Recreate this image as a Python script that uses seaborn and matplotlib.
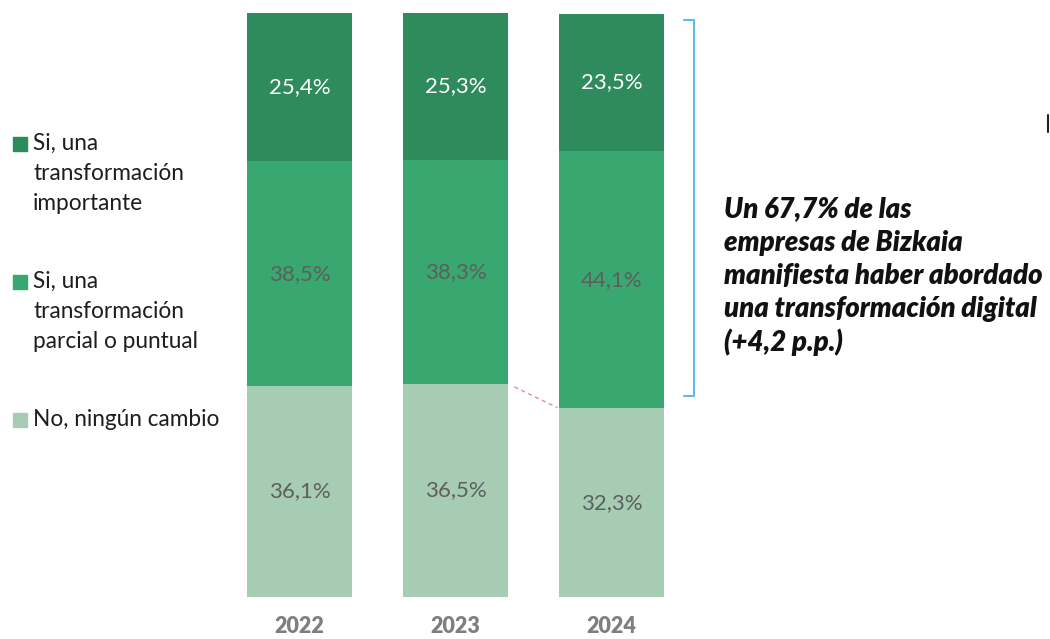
import matplotlib
matplotlib.use("Agg")
import matplotlib.pyplot as plt
from matplotlib.lines import Line2D
from matplotlib.patches import Rectangle
import seaborn as sns
import pandas as pd

years = ["2022", "2023", "2024"]
importante = [25.4, 25.3, 23.5]
parcial = [38.5, 38.3, 44.1]
ningun = [36.1, 36.5, 32.3]

etiquetas = [
    ["Si, una", "transformación", "importante"],
    ["Si, una", "transformación", "parcial o puntual"],
    ["No, ningún cambio"],
]
nota = [
    "Un 67,7% de las",
    "empresas de Bizkaia",
    "manifiesta haber abordado",
    "una transformación digital",
    "(+4,2 p.p.)",
]

col_oscuro = "#2E8B5B"
col_medio = "#38A870"
col_claro = "#A6CDB4"
col_gris = "#5E5E5E"

sns.set_style("white")
plt.rcParams["font.family"] = ["Lato", "DejaVu Sans"]

W, H = 1050, 639
fig = plt.figure(figsize=(W / 100, H / 100), dpi=100)
ax = fig.add_axes([221.5 / W, 42 / H, 468 / W, 584 / H])

df = pd.DataFrame({"year": years, "imp": importante, "par": parcial, "no": ningun})
df["tope_par"] = df["no"] + df["par"]
df["total"] = df["tope_par"] + df["imp"]

# barras apiladas: se pinta el total y encima las capas inferiores
for col, color in [("total", col_oscuro), ("tope_par", col_medio), ("no", col_claro)]:
    sns.barplot(data=df, x="year", y=col, color=color, width=0.673,
                saturation=1, linewidth=0, ax=ax)

ax.set_xlim(-0.5, 2.5)
ax.set_ylim(0, 100)
ax.set_xlabel("")
ax.set_ylabel("")
ax.set_yticks([])
sns.despine(ax=ax, left=True, bottom=True)
ax.tick_params(axis="x", length=0, pad=14)
for t in ax.get_xticklabels():
    t.set_fontsize(15.5)
    t.set_fontweight("heavy")
    t.set_color("#7F7F7F")

# etiquetas de valores
for i in range(len(years)):
    segs = [
        (ningun[i] / 2, ningun[i], col_gris),
        (ningun[i] + parcial[i] / 2, parcial[i], col_gris),
        (ningun[i] + parcial[i] + importante[i] / 2, importante[i], "white"),
    ]
    for y, v, c in segs:
        ax.text(i, y, f"{v:.1f}%".replace(".", ","), ha="center", va="center",
                fontsize=16, color=c)

# línea discontinua entre 2023 y 2024
x0, x1 = 1 + 0.337 + 0.04, 2 - 0.337 - 0.01
pend = (ningun[2] - ningun[1]) / (1 - 2 * 0.337)
ax.add_line(Line2D([x0, x1],
                   [ningun[1] + pend * 0.04, ningun[2] - pend * 0.01],
                   color="#E58F8F", lw=1.0, ls=(0, (3, 2.5))))

# corchete azul
ax.add_line(Line2D([2.465, 2.529, 2.529, 2.465], [98.8, 98.8, 34.4, 34.4],
                   color="#5BBDEB", lw=1.5, clip_on=False))

# leyenda manual
bases = [[150, 180, 210], [288, 318, 348], [426]]
for lineas, ys, c in zip(etiquetas, bases, [col_oscuro, col_medio, col_claro]):
    fig.patches.append(Rectangle((13 / W, 1 - (ys[0] + 1) / H), 14 / W, 14 / H,
                                 transform=fig.transFigure, color=c))
    for txt, y in zip(lineas, ys):
        fig.text(33 / W, 1 - y / H, txt, fontsize=16.3, color="#1E1E1E",
                 va="baseline", ha="left")

for k, txt in enumerate(nota):
    fig.text(724 / W, 1 - (217 + 33.5 * k) / H, txt, fontsize=19.8,
             fontweight="heavy", fontstyle="italic", color="#111111",
             va="baseline", ha="left")

fig.add_artist(Line2D([1048 / W, 1048 / W], [1 - 115 / H, 1 - 132 / H],
                      color="#222222", lw=1.5, transform=fig.transFigure))

fig.savefig("out.png", dpi=100)
